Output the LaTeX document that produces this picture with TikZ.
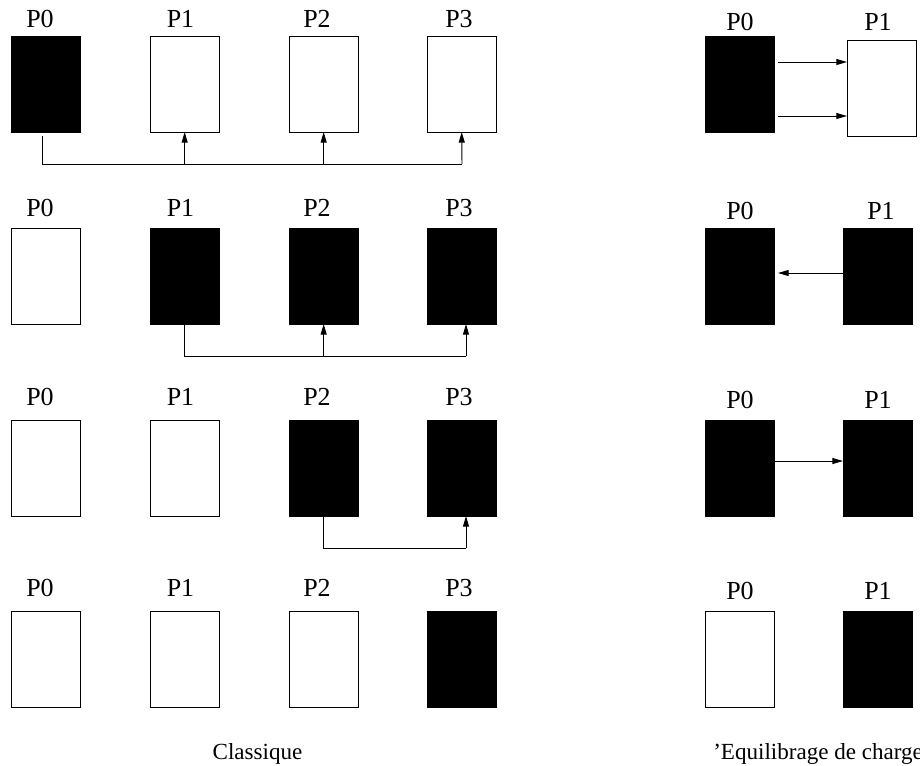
\documentclass[tikz,border=0pt]{standalone}
\usepackage{fontspec}
\setmainfont{Liberation Serif}
\usetikzlibrary{arrows.meta}
\tikzset{
  x=0.75pt,y=-0.75pt,
  proc/.style={draw=black,line width=0.7pt,minimum width=52pt,minimum height=72pt,inner sep=0pt,outer sep=0pt,anchor=north west},
  full/.style={proc,fill=black},
  blank/.style={proc,fill=white},
  lbl/.style={font=\fontsize{19.5}{22}\selectfont,inner sep=0pt,anchor=base},
  captiontext/.style={font=\fontsize{17.3}{20}\selectfont,inner sep=0pt,anchor=base},
  wire/.style={draw=black,line width=0.7pt},
  arr/.style={wire,-{Triangle[length=8pt,width=4.5pt]}}
}
\begin{document}
\begin{tikzpicture}
\useasboundingbox (0,0) rectangle (920,765);
% Classique, row 1
\node[full]  (a0) at (11,36) {};
\node[blank] (a1) at (150,36) {};
\node[blank] (a2) at (289,36) {};
\node[blank] (a3) at (427,36) {};
\node[lbl] (la0) at (40,27) {P0};
\node[lbl] (la1) at (180.5,27) {P1};
\node[lbl] (la2) at (317,27) {P2};
\node[lbl] (la3) at (459,27) {P3};
\coordinate (sa) at (42.5,136);
\coordinate (ba) at (462,164);
\draw[wire] (sa) |- (ba);
\draw[arr] (a1.south |- ba) -- (a1.south);
\draw[arr] (a2.south |- ba) -- (a2.south);
\draw[arr] (ba) -- (a3.south);
% row 2
\node[blank] (b0) at (11,228) {};
\node[full]  (b1) at (150,228) {};
\node[full]  (b2) at (289,228) {};
\node[full]  (b3) at (427,228) {};
\node[lbl] (lb0) at (40,216.5) {P0};
\node[lbl] (lb1) at (180.5,216.5) {P1};
\node[lbl] (lb2) at (317,216.5) {P2};
\node[lbl] (lb3) at (459,216.5) {P3};
\coordinate (bb) at (466,356);
\draw[wire] (b1.south) |- (bb);
\draw[arr] (b2.south |- bb) -- (b2.south);
\draw[arr] (bb) -- (bb |- b3.south);
% row 3
\node[blank] (c0) at (11,420) {};
\node[blank] (c1) at (150,420) {};
\node[full]  (c2) at (289,420) {};
\node[full]  (c3) at (427,420) {};
\node[lbl] (lc0) at (40,405) {P0};
\node[lbl] (lc1) at (180.5,405) {P1};
\node[lbl] (lc2) at (317,405) {P2};
\node[lbl] (lc3) at (459,405) {P3};
\coordinate (bc) at (466,548);
\draw[wire] (c2.south) |- (bc);
\draw[arr] (bc) -- (bc |- c3.south);
% row 4
\node[blank] (d0) at (11,611) {};
\node[blank] (d1) at (150,611) {};
\node[blank] (d2) at (289,611) {};
\node[full]  (d3) at (427,611) {};
\node[lbl] (ld0) at (40,596) {P0};
\node[lbl] (ld1) at (180.5,596) {P1};
\node[lbl] (ld2) at (317,596) {P2};
\node[lbl] (ld3) at (459,596) {P3};
\node[captiontext] (capa) at (257.5,759) {Classique};
% Equilibrage
\node[full]  (e0) at (705,36) {};
\node[blank] (e1) at (847,40) {};
\node[lbl] (le0) at (740,30) {P0};
\node[lbl] (le1) at (878,30) {P1};
\coordinate (e2) at (778,62);
\coordinate (e3) at (778,116);
\draw[arr] (e2) -- (e2 -| e1.west);
\draw[arr] (e3) -- (e3 -| e1.west);
\node[full] (f0) at (705,228) {};
\node[full] (f1) at (843,228) {};
\node[lbl] (lf0) at (740,219) {P0};
\node[lbl] (lf1) at (881,219) {P1};
\coordinate (f2) at (778,273);
\draw[arr] (f2 -| f1.west) -- (f2);
\node[full] (g0) at (705,420) {};
\node[full] (g1) at (843,420) {};
\node[lbl] (lg0) at (740,408) {P0};
\node[lbl] (lg1) at (878,408) {P1};
\coordinate (g2) at (775,461);
\draw[arr] (g2) -- (g2 -| g1.west);
\node[blank] (h0) at (705,611) {};
\node[full]  (h1) at (843,611) {};
\node[lbl] (lh0) at (740,599) {P0};
\node[lbl] (lh1) at (878,599) {P1};
\node[captiontext,anchor=base west] (capb) at (713,759) {'Equilibrage de charge};
\end{tikzpicture}
\end{document}
